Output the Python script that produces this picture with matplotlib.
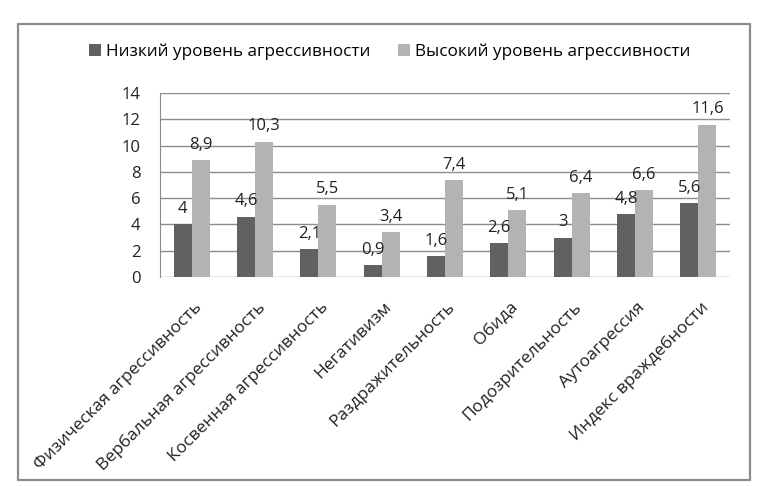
import numpy as np
import matplotlib
matplotlib.use("Agg")
from matplotlib import pyplot as plt
from matplotlib.patches import Rectangle

categories = ["Физическая агрессивность", "Вербальная агрессивность",
              "Косвенная агрессивность", "Негативизм", "Раздражительность",
              "Обида", "Подозрительность", "Аутоагрессия", "Индекс враждебности"]
low = [4, 4.6, 2.1, 0.9, 1.6, 2.6, 3, 4.8, 5.6]
high = [8.9, 10.3, 5.5, 3.4, 7.4, 5.1, 6.4, 6.6, 11.6]
series_names = ["Низкий уровень агрессивности", "Высокий уровень агрессивности"]

plt.rcParams['font.family'] = ['Open Sans', 'DejaVu Sans']

W, H = 757, 486
fig = plt.figure(figsize=(W / 100, H / 100), dpi=100)
fig.patches.append(Rectangle((17.5 / W, 1 - 480 / H), (750 - 17.5) / W, (480 - 24) / H,
                             transform=fig.transFigure, fill=False,
                             edgecolor="#8c8c8c", linewidth=1.6))

ax = fig.add_axes([160 / W, 1 - 277 / H, (730 - 160) / W, (277 - 93) / H])
x = np.arange(len(categories))
bw = 0.285
b1 = ax.bar(x - bw / 2, low, bw, color="#616161", label=series_names[0], zorder=3)
b2 = ax.bar(x + bw / 2, high, bw, color="#b3b3b3", label=series_names[1], zorder=3)

def fmt(v):
    return ("%g" % v).replace(".", ",")

for bars, vals in ((b1, low), (b2, high)):
    for r, v in zip(bars, vals):
        ax.text(r.get_x() + r.get_width() / 2, v + 0.55, fmt(v), ha="center", va="bottom",
                fontsize=12, color="#222222", zorder=4)

ax.set_xlim(-0.5, len(categories) - 0.5)
ax.set_ylim(0, 14)
ax.set_yticks(range(0, 15, 2))
ax.yaxis.grid(True, color="#8c8c8c", linewidth=1)
ax.set_axisbelow(True)
for s in ["top", "right", "bottom"]:
    ax.spines[s].set_visible(False)
ax.spines["left"].set_color("#8c8c8c")
ax.tick_params(axis="both", length=0, labelsize=12, colors="#222222")
ax.tick_params(axis="y", pad=14)
ax.set_xticks(x + 0.03)
ax.set_xticklabels(categories, rotation=45, ha="right", rotation_mode="anchor", fontsize=12.5)
ax.tick_params(axis="x", pad=16)

fig.legend(handles=[b1, b2], labels=series_names, loc="center", ncol=2,
           bbox_to_anchor=(390 / W, 1 - 52 / H), frameon=False, fontsize=12.3,
           handlelength=0.7, handleheight=0.7, handletextpad=0.3, columnspacing=1.6)

fig.savefig("out.png", dpi=100)
